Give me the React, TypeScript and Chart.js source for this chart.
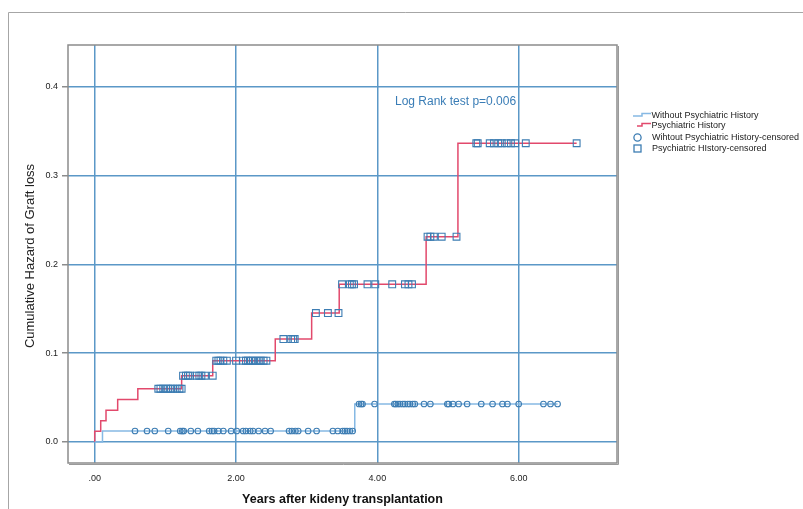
import React, { useEffect, useRef } from "react";
import { Chart, registerables } from "chart.js";

Chart.register(...registerables);

// ---- Data ----
const xTickValues = [0, 2, 4, 6];
const xTickLabels = [".00", "2.00", "4.00", "6.00"];
const yTickValues = [0, 0.1, 0.2, 0.3, 0.4];
const yTickLabels = ["0.0", "0.1", "0.2", "0.3", "0.4"];

// Step curves (time, cumulative hazard)
const withoutStepTimes = [0, 0.11, 3.68, 6.55];
const withoutStepHazard = [0, 0.0124, 0.0428, 0.0428];
const psychStepTimes = [0, 0, 0.085, 0.16, 0.325, 0.61, 1.23, 1.67, 2.555, 3.07, 3.46, 4.69, 5.14, 6.82];
const psychStepHazard = [0, 0.012, 0.024, 0.0357, 0.048, 0.06, 0.0747, 0.0916, 0.116, 0.1453, 0.1777, 0.2313, 0.3366, 0.3366];

// Censored observations, grouped by hazard level
const withoutCensoredLevels = [0.0124, 0.0428];
const withoutCensoredTimes = [
  [0.57, 0.74, 0.85, 1.04, 1.21, 1.24, 1.26, 1.36, 1.46, 1.62, 1.66, 1.69, 1.75, 1.82, 1.93, 2.01, 2.1, 2.14, 2.2, 2.24, 2.32, 2.41, 2.49, 2.75, 2.79, 2.84, 2.88, 3.02, 3.14, 3.37, 3.44, 3.51, 3.54, 3.57, 3.61, 3.65],
  [3.74, 3.77, 3.79, 3.96, 4.24, 4.26, 4.29, 4.32, 4.36, 4.39, 4.43, 4.46, 4.5, 4.53, 4.66, 4.75, 4.99, 5.01, 5.07, 5.15, 5.27, 5.47, 5.63, 5.77, 5.84, 6.0, 6.35, 6.45, 6.55],
];
const psychCensoredLevels = [0.06, 0.0747, 0.0916, 0.116, 0.1453, 0.1777, 0.2313, 0.3366];
const psychCensoredTimes = [
  [0.9, 0.93, 0.97, 1.01, 1.04, 1.08, 1.11, 1.16, 1.2, 1.23],
  [1.25, 1.29, 1.32, 1.35, 1.44, 1.48, 1.51, 1.56, 1.67],
  [1.72, 1.75, 1.78, 1.82, 1.87, 2.0, 2.1, 2.14, 2.17, 2.21, 2.24, 2.28, 2.32, 2.35, 2.39, 2.43],
  [2.67, 2.78, 2.81, 2.83],
  [3.13, 3.3, 3.45],
  [3.5, 3.61, 3.64, 3.67, 3.86, 3.97, 4.21, 4.39, 4.44, 4.49],
  [4.71, 4.75, 4.8, 4.91, 5.12],
  [5.4, 5.42, 5.59, 5.65, 5.71, 5.76, 5.83, 5.89, 5.95, 6.1, 6.82],
];

const legendLabels = [
  "Without Psychiatric History",
  "Psychiatric History",
  "Wihtout Psychiatric History-censored",
  "Psychiatric HIstory-censored",
];
const xTitle = "Years after kideny transplantation";
const yTitle = "Cumulative Hazard of Graft loss";
const annotationText = "Log Rank test p=0.006";

// ---- Styles ----
const FONT = "Arial, 'Liberation Sans', sans-serif";
const BLUE_LINE = "#86b9e4";
const RED_LINE = "#e2496c";
const MARKER = "#3d7db3";
const GRID = "#5b98c7";

function App() {
  const ref = useRef<HTMLCanvasElement | null>(null);

  useEffect(() => {
    const canvas = ref.current;
    if (!canvas) return;

    const withoutLine = withoutStepTimes.map((t, i) => ({ x: t, y: withoutStepHazard[i] }));
    const psychLine = psychStepTimes.map((t, i) => ({ x: t, y: psychStepHazard[i] }));
    const withoutCens = withoutCensoredTimes.flatMap((arr, li) =>
      arr.map((t) => ({ x: t, y: withoutCensoredLevels[li] }))
    );
    const psychCens = psychCensoredTimes.flatMap((arr, li) =>
      arr.map((t) => ({ x: t, y: psychCensoredLevels[li] }))
    );

    const decor = {
      id: "decor",
      afterDraw(chart: any) {
        const ctx = chart.ctx as CanvasRenderingContext2D;
        const a = chart.chartArea;
        ctx.save();
        // outer border
        ctx.strokeStyle = "#a6a6a6";
        ctx.lineWidth = 1;
        ctx.beginPath();
        ctx.moveTo(8.5, 509);
        ctx.lineTo(8.5, 12.5);
        ctx.lineTo(803, 12.5);
        ctx.stroke();
        // plot frame
        ctx.strokeStyle = "#8c8c8c";
        ctx.lineWidth = 1.5;
        ctx.strokeRect(a.left, a.top, a.right - a.left, a.bottom - a.top);
        ctx.strokeStyle = "#9a9a9a";
        ctx.lineWidth = 1;
        ctx.beginPath();
        ctx.moveTo(a.left + 1, a.bottom + 1.5);
        ctx.lineTo(a.right + 1.5, a.bottom + 1.5);
        ctx.lineTo(a.right + 1.5, a.top + 1);
        ctx.stroke();

        // axis titles
        ctx.fillStyle = "#111";
        ctx.font = `bold 12.5px ${FONT}`;
        ctx.textAlign = "center";
        ctx.textBaseline = "middle";
        ctx.fillText(xTitle, (a.left + a.right) / 2, 500);

        ctx.save();
        ctx.translate(30, 256);
        ctx.rotate(-Math.PI / 2);
        ctx.font = `13px ${FONT}`;
        ctx.fillStyle = "#222";
        ctx.fillText(yTitle, 0, 0);
        ctx.restore();

        // annotation
        ctx.font = `12px ${FONT}`;
        ctx.fillStyle = "#3a7db6";
        ctx.textAlign = "left";
        ctx.textBaseline = "alphabetic";
        ctx.fillText(annotationText, 395, 105);

        // legend
        ctx.font = `9px ${FONT}`;
        ctx.fillStyle = "#222";
        ctx.textBaseline = "middle";
        ctx.lineWidth = 1.5;
        // blue step icon
        ctx.strokeStyle = BLUE_LINE;
        ctx.beginPath();
        ctx.moveTo(633, 116);
        ctx.lineTo(642, 116);
        ctx.lineTo(642, 113.5);
        ctx.lineTo(651, 113.5);
        ctx.stroke();
        ctx.fillText(legendLabels[0], 651.5, 115.5);
        // red step icon
        ctx.strokeStyle = RED_LINE;
        ctx.beginPath();
        ctx.moveTo(637, 126);
        ctx.lineTo(642, 126);
        ctx.lineTo(642, 123.5);
        ctx.lineTo(651, 123.5);
        ctx.stroke();
        ctx.fillText(legendLabels[1], 651.5, 126);
        // circle icon
        ctx.strokeStyle = MARKER;
        ctx.lineWidth = 1.3;
        ctx.beginPath();
        ctx.arc(637.5, 137.5, 3.6, 0, Math.PI * 2);
        ctx.stroke();
        ctx.fillText(legendLabels[2], 652, 137.5);
        // square icon
        ctx.strokeRect(634, 145, 7, 7);
        ctx.fillText(legendLabels[3], 652, 148.5);
        ctx.restore();
      },
    };

    const chart = new Chart(canvas, {
      type: "scatter",
      data: {
        datasets: [
          {
            label: legendLabels[2],
            data: withoutCens,
            showLine: false,
            pointStyle: "circle",
            pointRadius: 2.8,
            pointBorderWidth: 1.1,
            borderColor: MARKER,
            backgroundColor: "rgba(0,0,0,0)",
            order: 0,
          },
          {
            label: legendLabels[3],
            data: psychCens,
            showLine: false,
            pointStyle: "rect",
            pointRadius: 4.8,
            pointBorderWidth: 1.1,
            borderColor: MARKER,
            backgroundColor: "rgba(0,0,0,0)",
            order: 0,
          },
          {
            label: legendLabels[0],
            data: withoutLine,
            showLine: true,
            stepped: true,
            pointRadius: 0,
            borderColor: BLUE_LINE,
            borderWidth: 1.5,
            order: 1,
          } as any,
          {
            label: legendLabels[1],
            data: psychLine,
            showLine: true,
            stepped: true,
            pointRadius: 0,
            borderColor: RED_LINE,
            borderWidth: 1.5,
            order: 1,
          } as any,
        ],
      },
      options: {
        responsive: false,
        animation: false,
        events: [],
        layout: { padding: { left: 0, top: 45, right: 186, bottom: 0 } },
        plugins: { legend: { display: false }, tooltip: { enabled: false }, title: { display: false } },
        scales: {
          x: {
            type: "linear",
            min: -0.378,
            max: 7.391,
            afterBuildTicks: (s: any) => {
              s.ticks = xTickValues.map((v) => ({ value: v }));
            },
            afterFit: (s: any) => {
              s.height = 46;
            },
            border: { display: false },
            grid: { color: GRID, lineWidth: 1.5, drawTicks: false },
            ticks: {
              padding: 10,
              color: "#222",
              font: { family: FONT, size: 9 },
              maxRotation: 0,
              callback: (_v: any, i: number) => xTickLabels[i],
            },
          },
          y: {
            type: "linear",
            min: -0.02366,
            max: 0.4473,
            afterBuildTicks: (s: any) => {
              s.ticks = yTickValues.map((v) => ({ value: v }));
            },
            afterFit: (s: any) => {
              s.width = 68;
            },
            border: { display: false },
            grid: { color: GRID, lineWidth: 1.5, drawTicks: true, tickLength: 6, tickColor: "#8c8c8c" },
            ticks: {
              padding: 4,
              color: "#222",
              font: { family: FONT, size: 9 },
              callback: (_v: any, i: number) => yTickLabels[i],
            },
          },
        },
      },
      plugins: [decor],
    });

    return () => chart.destroy();
  }, []);

  return (
    <div style={{ position: "fixed", left: 0, top: 0, width: 803, height: 509, background: "#fff" }}>
      <canvas ref={ref} width={803} height={509} style={{ display: "block", width: 803, height: 509 }} />
    </div>
  );
}

export default App;
